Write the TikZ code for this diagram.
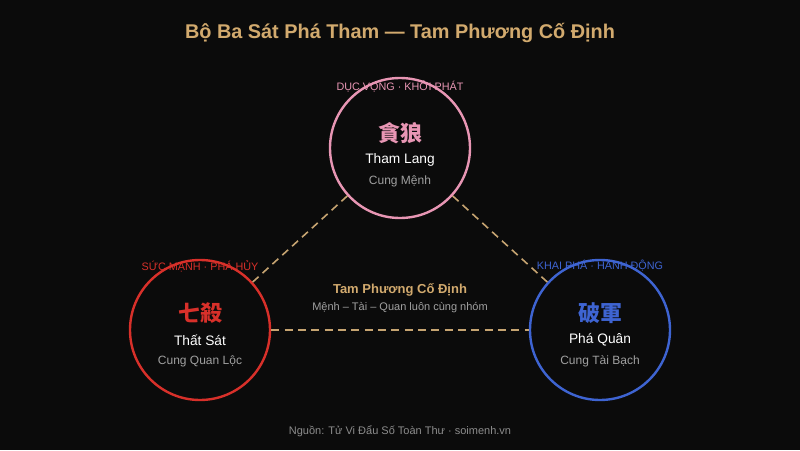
\documentclass[tikz,border=0pt]{standalone}
\usepackage{fontspec}
\setmainfont{Liberation Sans}
\newfontfamily\cjk{Noto Sans CJK TC}
\usetikzlibrary{positioning}
\definecolor{bg}{HTML}{0B0B0B}
\definecolor{gold}{HTML}{D2AA6E}
\definecolor{pinkstar}{HTML}{E896B4}
\definecolor{redstar}{HTML}{D8302A}
\definecolor{bluestar}{HTML}{3E64D2}
\definecolor{softgray}{HTML}{A0A0A0}
\definecolor{dimgray}{HTML}{8C8C8C}
\tikzstyle{palace} = [circle, draw, line width=1.8pt, minimum size=105pt, inner sep=0pt]
\tikzstyle{hanzi} = [inner sep=0pt, font=\cjk\bfseries\fontsize{16.5pt}{17pt}\selectfont]
\tikzstyle{starname} = [inner sep=0pt, text=white, font=\fontsize{10.3pt}{11pt}\selectfont]
\tikzstyle{house} = [inner sep=0pt, text=softgray, font=\fontsize{9pt}{10pt}\selectfont]
\tikzstyle{tag} = [inner sep=0pt, font=\fontsize{8.1pt}{9pt}\selectfont]
\tikzstyle{link} = [draw, gold!85!gray, line width=1.2pt, dash pattern=on 6pt off 4pt]

\begin{document}
\begin{tikzpicture}[x=0.75pt, y=-0.75pt]
      \fill [bg] (0,0) rectangle (800,450);
      \useasboundingbox (0,0) rectangle (800,450);
      % Title
      \node [inner sep=0pt, text=gold, font=\bfseries\fontsize{14.9pt}{15pt}\selectfont] (title) at (400,33) {Bộ Ba Sát Phá Tham — Tam Phương Cố Định};

      % Three palaces
      \node [palace, draw=pinkstar] (tham) at (400,148) {};
      \node [palace, draw=redstar] (that) at (200,330) {};
      \node [palace, draw=bluestar] (pha) at (600,330) {};

      % Dashed triangle
      \path [link] (tham) -- (that);
      \path [link] (tham) -- (pha);
      \path [link] (that) -- (pha);

      % Tham Lang
      \node [tag, text=pinkstar] (thamTag) at (400,86) {DỤC VỌNG · KHỞI PHÁT};
      \node [hanzi, text=pinkstar] (thamHan) at (400,133) {貪狼};
      \node [starname] (thamName) at (400,160) {Tham Lang};
      \node [house] (thamHouse) at (400,181) {Cung Mệnh};

      % That Sat
      \node [tag, text=redstar] (thatTag) at (200,266) {SỨC MẠNH · PHÁ HỦY};
      \node [hanzi, text=redstar] (thatHan) at (200,313) {七殺};
      \node [starname] (thatName) at (200,340) {Thất Sát};
      \node [house] (thatHouse) at (200,361) {Cung Quan Lộc};

      % Pha Quan
      \node [tag, text=bluestar] (phaTag) at (600,266) {KHAI PHÁ · HÀNH ĐỘNG};
      \node [hanzi, text=bluestar] (phaHan) at (600,313) {破軍};
      \node [starname] (phaName) at (600,340) {Phá Quân};
      \node [house] (phaHouse) at (600,361) {Cung Tài Bạch};

      % Centre note
      \node [inner sep=0pt, text=gold, font=\bfseries\fontsize{9.75pt}{10pt}\selectfont] (noteTitle) at (400,290) {Tam Phương Cố Định};
      \node [inner sep=0pt, text=softgray, font=\fontsize{8.25pt}{9pt}\selectfont] (noteText) at (400,308) {Mệnh – Tài – Quan luôn cùng nhóm};

      % Source
      \node [inner sep=0pt, text=dimgray, font=\fontsize{8.25pt}{9pt}\selectfont] (source) at (400,431) {Nguồn: Tử Vi Đẩu Số Toàn Thư · soimenh.vn};
\end{tikzpicture}
\end{document}
